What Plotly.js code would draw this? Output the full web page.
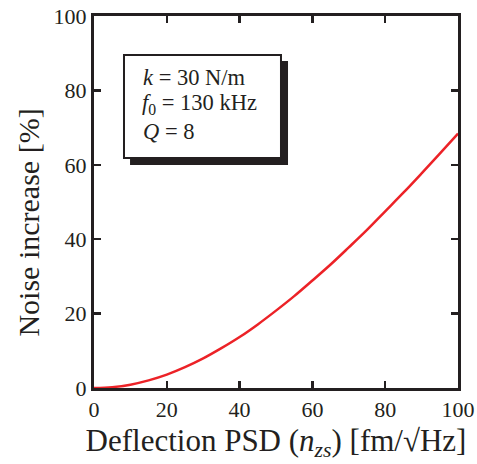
<!DOCTYPE html>
<html>
<head>
<meta charset="utf-8">
<script src="https://cdn.plot.ly/plotly-3.0.1.min.js"></script>
<style>
html,body{margin:0;padding:0;background:#fff;}
#chart{width:477px;height:464px;}
</style>
</head>
<body>
<div id="chart"></div>
<script>
// Deflection PSD n_zs [fm/sqrt(Hz)]
const deflectionPSD = [0, 5, 10, 15, 20, 25, 30, 35, 40, 45, 50, 55, 60, 65, 70, 75, 80, 85, 90, 95, 100];
// Noise increase [%]
const noiseIncrease = [0, 0.23, 0.9, 2.05, 3.6, 5.6, 7.95, 10.7, 13.7, 17.1, 20.8, 24.7, 28.9, 33.2, 37.8, 42.5, 47.5, 52.5, 57.7, 63.0, 68.4];
const xTicks = [0, 20, 40, 60, 80, 100];
const yTicks = [0, 20, 40, 60, 80, 100];
const paramLines = ["<i>k</i> = 30 N/m", "<i>f</i><sub>0</sub> = 130 kHz", "<i>Q</i> = 8"];

const serif = "Liberation Serif, Times New Roman, serif";
const ink = "#231f20";

const trace = {
  x: deflectionPSD,
  y: noiseIncrease,
  type: "scatter",
  mode: "lines",
  line: {color: "#ec2227", width: 2.5, shape: "spline"},
  hoverinfo: "skip"
};

const axisCommon = {
  showgrid: false,
  zeroline: false,
  showline: true,
  linecolor: ink,
  linewidth: 3,
  mirror: "ticks",
  ticks: "inside",
  ticklen: 7,
  tickwidth: 2.5,
  tickcolor: ink,
  tickfont: {family: serif, size: 22, color: ink},
  automargin: false
};

const lineY = [0.834, 0.764, 0.690];
const lineX = [0.129, 0.126, 0.129];

const layout = {
  width: 477,
  height: 464,
  margin: {l: 94, r: 19, t: 16, b: 76},
  paper_bgcolor: "#fff",
  plot_bgcolor: "#fff",
  showlegend: false,
  xaxis: Object.assign({}, axisCommon, {
    range: [0, 100],
    tickvals: xTicks,
    ticktext: xTicks.map(String),
    title: {text: "Deflection PSD (<i>n</i><sub><i>zs</i></sub>) [fm/√Hz]", font: {family: serif, size: 31, color: ink}, standoff: 8}
  }),
  yaxis: Object.assign({}, axisCommon, {
    range: [0, 100],
    tickvals: yTicks,
    ticktext: yTicks.map(String),
    title: {text: ""}
  }),
  shapes: [
    {type: "rect", xref: "paper", yref: "paper", x0: 0.099, x1: 0.533, y0: 0.5995, y1: 0.879,
     fillcolor: ink, line: {width: 0}, layer: "above"},
    {type: "rect", xref: "paper", yref: "paper", x0: 0.0824, x1: 0.5137, y0: 0.6183, y1: 0.8952,
     fillcolor: "#fff", line: {color: ink, width: 2}, layer: "above"}
  ],
  annotations: paramLines.map((t, i) => ({
    text: t, xref: "paper", yref: "paper", x: lineX[i], y: lineY[i],
    xanchor: "left", yanchor: "middle", showarrow: false, align: "left",
    font: {family: serif, size: 22.5, color: ink}
  })).concat([{
    text: "Noise increase [%]", xref: "paper", yref: "paper", x: -0.181, y: 0.445,
    xanchor: "center", yanchor: "middle", textangle: -90, showarrow: false,
    font: {family: serif, size: 30, color: ink}
  }])
};

Plotly.newPlot("chart", [trace], layout, {staticPlot: true, displayModeBar: false});
</script>
</body>
</html>
